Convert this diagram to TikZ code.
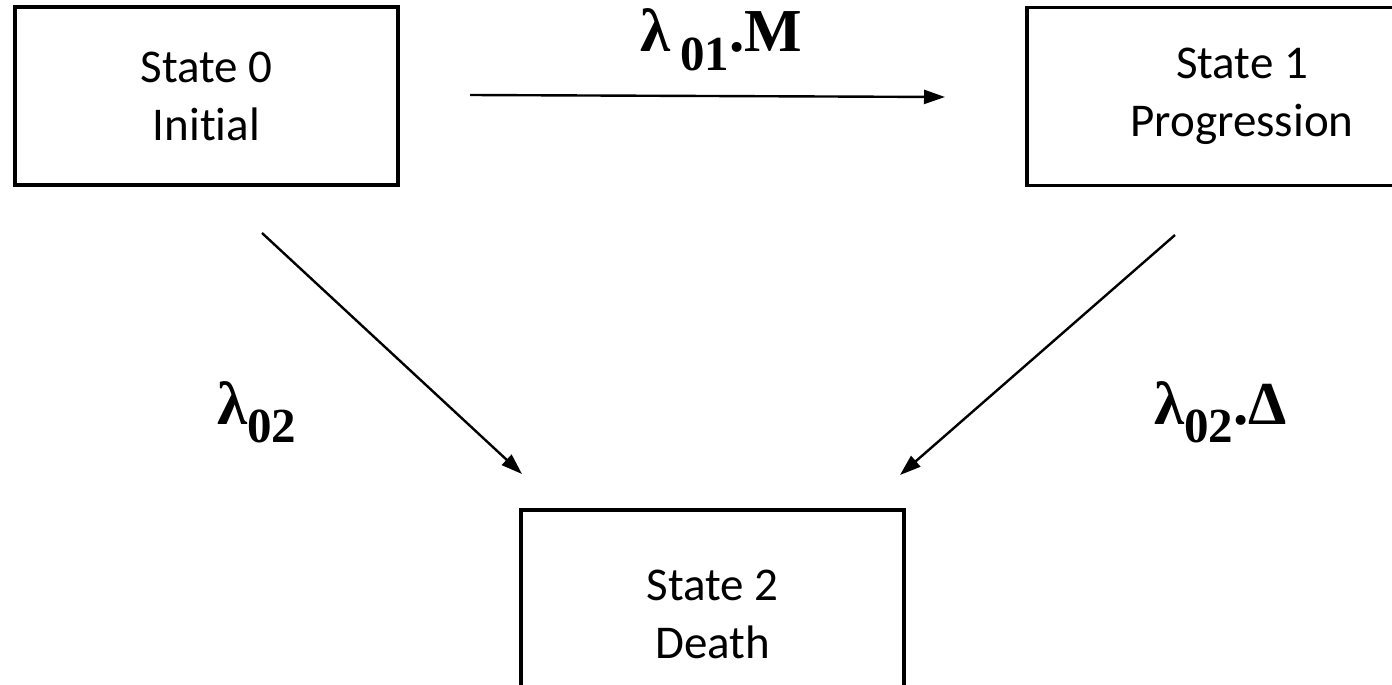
\documentclass[tikz,border=0pt]{standalone}
\usepackage{fontspec}
\setmainfont{Carlito}[Ligatures=NoCommon]
\newfontfamily\lamfont{Liberation Serif}[BoldFont={Liberation Serif Bold}]
\usetikzlibrary{arrows.meta}
\tikzset{
  statebox/.style={draw=black, line width=3.5pt, minimum width=383pt, minimum height=178pt, align=center, inner sep=0pt,
    font=\fontsize{47}{58}\selectfont},
  trans/.style={line width=2.4pt, -{Triangle[length=21pt,width=14pt]}},
  rate/.style={font=\lamfont\bfseries\fontsize{61}{64}\selectfont, inner sep=0pt}
}
\newcommand{\sbs}[1]{\raisebox{-0.3em}{\fontsize{49}{49}\selectfont #1}}
\begin{document}
\begin{tikzpicture}[x=1pt,y=-1pt]
\useasboundingbox (0,0) rectangle (1392,685);
\clip (0,0) rectangle (1392,685);
\node[statebox, minimum width=383pt] (s0) at (206.5,96) {State 0\\Initial};
\node[statebox, minimum width=430pt] (s1) at (1242,96.5) {State 1\\Progression};
\node[statebox, minimum height=208pt] (s2) at (712.5,614) {State 2\\Death};
\coordinate (a0) at (470,95);
\coordinate (a1) at (945,97);
\coordinate (b0) at (262,233);
\coordinate (b1) at (522,474);
\coordinate (c0) at (1175,235);
\coordinate (c1) at (900,475);
\draw[trans] (a0) -- (a1);
\draw[trans] (b0) -- (b1);
\draw[trans] (c0) -- (c1);
\node[rate, anchor=base west] (l01) at (640,52) {λ\,\sbs{01}.M};
\node[rate, anchor=base west] (l02) at (217,424) {λ\sbs{02}};
\node[rate, anchor=base west] (l12) at (1154,424) {λ\sbs{02}.Δ};
\end{tikzpicture}
\end{document}
